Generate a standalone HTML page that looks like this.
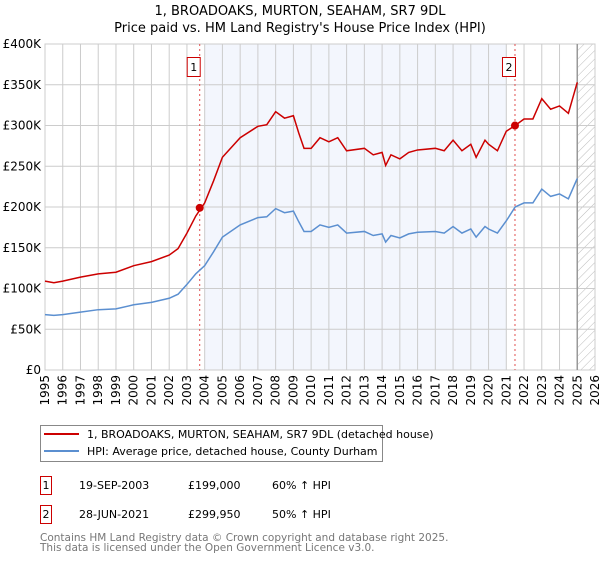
<!DOCTYPE html>
<html><head><meta charset="utf-8"><style>
body{margin:0;background:#fff;font-family:"Liberation Sans","DejaVu Sans",sans-serif}
</style></head><body>
<svg width="600" height="560" xmlns="http://www.w3.org/2000/svg" font-family="DejaVu Sans, Liberation Sans, sans-serif">
<defs><pattern id="hatch" width="6" height="6" patternUnits="userSpaceOnUse" patternTransform="rotate(45)"><line x1="0" y1="0" x2="0" y2="6" stroke="#bbb" stroke-width="1"/></pattern></defs>
<text x="300" y="15" text-anchor="middle" font-size="13">1, BROADOAKS, MURTON, SEAHAM, SR7 9DL</text>
<text x="300" y="32" text-anchor="middle" font-size="13">Price paid vs. HM Land Registry's House Price Index (HPI)</text>
<g id="plot"></g>
<g id="legend">
<rect x="40.5" y="425.5" width="342" height="36" fill="#fff" stroke="#888"/>
<line x1="44" y1="434" x2="79" y2="434" stroke="#cc0000" stroke-width="2"/>
<text x="87" y="438" font-size="11">1, BROADOAKS, MURTON, SEAHAM, SR7 9DL (detached house)</text>
<line x1="44" y1="451" x2="79" y2="451" stroke="#5b8fd0" stroke-width="2"/>
<text x="87" y="455" font-size="11">HPI: Average price, detached house, County Durham</text>
</g>
<g font-size="11">
<rect x="40.5" y="476.5" width="11" height="18" fill="#fff" stroke="#cc0000"/><text x="46" y="489" text-anchor="middle">1</text>
<text x="79" y="489">19-SEP-2003</text><text x="188" y="489">£199,000</text><text x="272" y="489">60% ↑ HPI</text>
<rect x="40.5" y="505.5" width="11" height="18" fill="#fff" stroke="#cc0000"/><text x="46" y="518" text-anchor="middle">2</text>
<text x="79" y="518">28-JUN-2021</text><text x="188" y="518">£299,950</text><text x="272" y="518">50% ↑ HPI</text>
</g>
<text x="40" y="541" font-size="10.5" fill="#777">Contains HM Land Registry data © Crown copyright and database right 2025.</text>
<text x="40" y="551" font-size="10.5" fill="#777">This data is licensed under the Open Government Licence v3.0.</text>
</svg>
<script>
const years=[1995,1995.5,1996,1997,1998,1999,2000,2001,2002,2002.5,2003,2003.5,2004,2004.5,2005,2006,2007,2007.5,2008,2008.5,2009,2009.3,2009.6,2010,2010.5,2011,2011.5,2012,2013,2013.5,2014,2014.2,2014.5,2015,2015.5,2016,2017,2017.5,2018,2018.5,2019,2019.3,2019.8,2020,2020.5,2021,2021.5,2022,2022.5,2023,2023.5,2024,2024.5,2025];
const hpi=[68,67,68,71,74,75,80,83,88,93,105,118,128,145,163,178,187,188,198,193,195,182,170,170,178,175,178,168,170,165,167,157,165,162,167,169,170,168,176,168,173,163,176,173,168,183,200,205,205,222,213,216,210,235];
const prop=[109,107,109,114,118,120,128,133,141,149,168,189,205,232,261,285,299,301,317,309,312,291,272,272,285,280,285,269,272,264,267,251,264,259,267,270,272,269,282,269,277,261,282,277,269,293,300,308,308,333,320,324,315,353];
const yTicks=[0,50,100,150,200,250,300,350,400];
const xTicks=[1995,1996,1997,1998,1999,2000,2001,2002,2003,2004,2005,2006,2007,2008,2009,2010,2011,2012,2013,2014,2015,2016,2017,2018,2019,2020,2021,2022,2023,2024,2025,2026];
const saleYears=[2003.72,2021.49];
const salePrices=[199,299.95];
const saleLabels=["1","2"];
const X0=45,X1=595,Y0=370,Y1=44;
const xs=y=>X0+(y-1995)/31*(X1-X0);
const ys=v=>Y0-v/400*(Y0-Y1);
const NS="http://www.w3.org/2000/svg";
const g=document.getElementById('plot');
function mk(t,a,p){const e=document.createElementNS(NS,t);for(const k in a)e.setAttribute(k,a[k]);(p||g).appendChild(e);return e;}
let e;
e=mk('rect',{x:xs(2004),y:Y1,width:xs(2021)-xs(2004),height:Y0-Y1,fill:'#f3f6fd'});


e=mk('rect',{x:xs(2025),y:Y1,width:X1-xs(2025),height:Y0-Y1,fill:'url(#hatch)'});


yTicks.forEach(v=>{
 mk('line',{x1:X0,x2:X1,y1:ys(v),y2:ys(v),stroke:'#ccc','stroke-width':1});
 e=mk('text',{x:X0-4,y:ys(v)+4,'text-anchor':'end','font-size':12});e.textContent=v===0?'£0':'£'+v+'K';
 
 
});
xTicks.forEach(y=>{
 mk('line',{x1:xs(y),x2:xs(y),y1:Y1,y2:Y0,stroke:'#ccc','stroke-width':1});
 e=mk('text',{x:0,y:0,'text-anchor':'end','font-size':12,transform:`translate(${xs(y)+4},${Y0+5}) rotate(-90)`});e.textContent=y;
 
 
});
mk('rect',{x:X0,y:Y1,width:X1-X0,height:Y0-Y1,fill:'none',stroke:'#ccc'});
mk('line',{x1:xs(2025),x2:xs(2025),y1:Y1,y2:Y0,stroke:'#999','stroke-width':1.5});
saleYears.forEach((sy,i)=>{
 e=mk('line',{x1:xs(sy),x2:xs(sy),y1:Y1,y2:Y0,stroke:'#e05050','stroke-dasharray':'2,3','stroke-width':1});
 
 
});
e=mk('polyline',{points:years.map((y,i)=>xs(y)+','+ys(hpi[i])).join(' '),fill:'none',stroke:'#5b8fd0','stroke-width':1.5});


e=mk('polyline',{points:years.map((y,i)=>xs(y)+','+ys(prop[i])).join(' '),fill:'none',stroke:'#cc0000','stroke-width':1.5});


saleYears.forEach((sy,i)=>{
 e=mk('circle',{cx:xs(sy),cy:ys(salePrices[i]),r:4,fill:'#cc0000'});
 
 
 e=mk('rect',{x:xs(sy)-12.5,y:57.5,width:13,height:19,fill:'#fff',stroke:'#cc0000'});
 
 
 e=mk('text',{x:xs(sy)-6,y:71,'text-anchor':'middle','font-size':11});e.textContent=saleLabels[i];
 
 
});
</script>
</body></html>
